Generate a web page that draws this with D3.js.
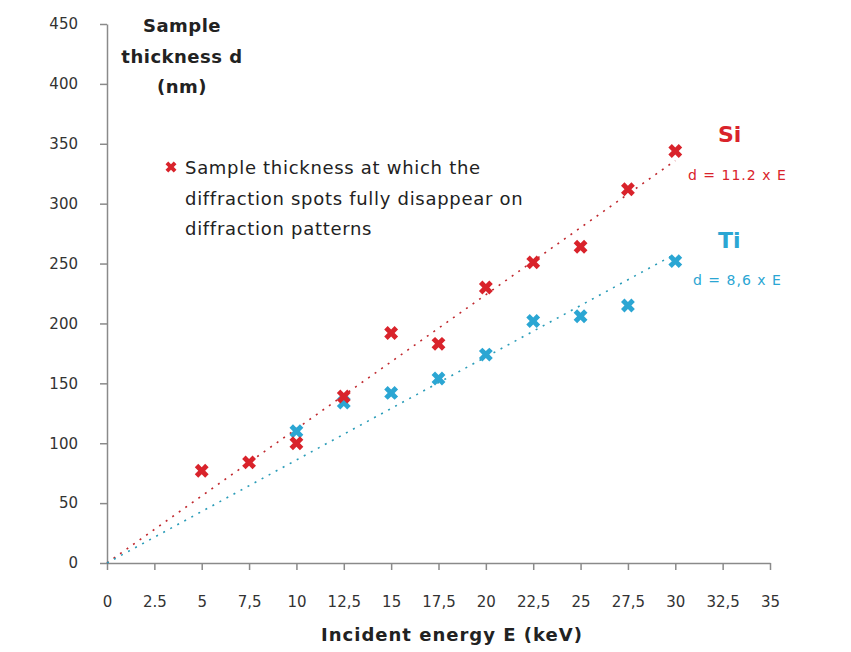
<!DOCTYPE html>
<html><head><meta charset="utf-8">
<script src="https://cdn.jsdelivr.net/npm/d3@7"></script>
<style>body{margin:0;background:#fff}svg{display:block}</style>
</head><body>
<svg id="c" width="851" height="652"></svg>
<script>
const xTicks = [0,2.5,5,7.5,10,12.5,15,17.5,20,22.5,25,27.5,30,32.5,35];
const xTickLabels = ["0","2.5","5","7,5","10","12,5","15","17,5","20","22,5","25","27,5","30","32,5","35"];
const yTicks = [0,50,100,150,200,250,300,350,400,450];
const siE = [5,7.5,10,12.5,15,17.5,20,22.5,25,27.5,30];
const siD = [77,84,100,139,192,183,230,251,264,312,344];
const tiE = [10,12.5,15,17.5,20,22.5,25,27.5,30];
const tiD = [110,134,142,154,174,202,206,215,252];
const siSlope = 11.2, tiSlope = 8.6;
const fitRange = [0,30];

const svg = d3.select("#c");
const x = d3.scaleLinear().domain([0,35]).range([107,770]);
const y = d3.scaleLinear().domain([0,450]).range([563,24]);
const font = "'DejaVu Sans', sans-serif";
const red = "#d9232b", blue = "#2ba6d3";

const xa = svg.append("g").attr("transform","translate(0,563)")
  .call(d3.axisBottom(x).tickValues(xTicks).tickFormat((d,i)=>xTickLabels[i]).tickSize(7).tickPadding(26).tickSizeOuter(0));
const ya = svg.append("g").attr("transform","translate(107,0)")
  .call(d3.axisLeft(y).tickValues(yTicks).tickSize(7).tickPadding(22).tickSizeOuter(0));
[xa,ya].forEach(a=>{
  a.selectAll("path,line").attr("stroke","#8a8a8a").attr("stroke-width",1.5);
  a.selectAll("text").attr("fill","#333").style("font-family",font).style("font-size","15px");
});

// trendlines
function trend(slope,color){
  svg.append("line")
    .attr("x1",x(fitRange[0])).attr("y1",y(slope*fitRange[0]))
    .attr("x2",x(fitRange[1])).attr("y2",y(slope*fitRange[1]))
    .attr("stroke",color).attr("stroke-width",1.6).attr("stroke-dasharray","2,6");
}
trend(siSlope,"#c0282e");
trend(tiSlope,"#2a9cb8");

const sym = d3.symbol().type(d3.symbolCross).size(120);
function marks(xs,ys,color){
  svg.append("g").selectAll("path").data(xs).join("path")
    .attr("d",sym)
    .attr("transform",(d,i)=>`translate(${x(d)},${y(ys[i])}) rotate(45)`)
    .attr("fill",color);
}
marks(tiE,tiD,blue);
marks(siE,siD,red);

// y-axis title
const yt = svg.append("text").attr("text-anchor","middle").style("font-family",font)
  .style("font-size","18px").style("font-weight","bold").style("letter-spacing","0.5px").attr("fill","#222");
[["Sample",32],["thickness d",63],["(nm)",93]].forEach(([t,yy])=>yt.append("tspan").attr("x",182).attr("y",yy).text(t));

// x-axis title
svg.append("text").attr("x",452).attr("y",641).attr("text-anchor","middle")
  .style("font-family",font).style("font-size","18px").style("font-weight","bold").style("letter-spacing","1px").attr("fill","#222")
  .text("Incident energy E (keV)");

// legend
svg.append("path").attr("d",d3.symbol().type(d3.symbolCross).size(75))
  .attr("transform","translate(171,167) rotate(45)").attr("fill",red);
const lt = svg.append("text").style("font-family",font).style("font-size","18px").style("letter-spacing","0.7px").attr("fill","#222");
[["Sample thickness at which the",174],["diffraction spots fully disappear on",205],["diffraction patterns",235]]
  .forEach(([t,yy])=>lt.append("tspan").attr("x",185).attr("y",yy).text(t));

// labels
svg.append("text").attr("x",718).attr("y",142).style("font-family",font).style("font-size","22px")
  .style("font-weight","bold").attr("fill",red).text("Si");
svg.append("text").attr("x",688).attr("y",180).style("font-family",font).style("font-size","14px").style("letter-spacing","1px")
  .attr("fill",red).text("d = 11.2 x E");
svg.append("text").attr("x",718).attr("y",248).style("font-family",font).style("font-size","22px")
  .style("font-weight","bold").attr("fill",blue).text("Ti");
svg.append("text").attr("x",693).attr("y",285).style("font-family",font).style("font-size","14px").style("letter-spacing","1px")
  .attr("fill",blue).text("d = 8,6 x E");
</script>
</body></html>
